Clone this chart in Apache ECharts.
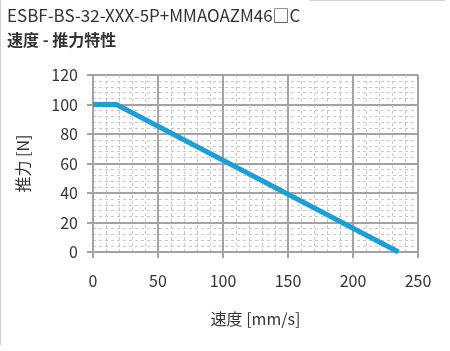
<!DOCTYPE html>
<html><head><meta charset="utf-8">
<script src="https://cdn.jsdelivr.net/npm/echarts@6/dist/echarts.min.js"></script>
<style>html,body{margin:0;padding:0;background:#fff}#c{width:450px;height:351px}</style>
</head><body><div id="c"></div>
<script>
const titleText = "ESBF-BS-32-XXX-5P+MMAOAZM46\u25A1C";
const subTitleText = "速度 - 推力特性";
const xAxisName = "速度 [mm/s]";
const yAxisName = "推力 [N]";
const speed = [0, 18, 235];
const thrust = [100, 100, 0];
const xTicks = [0, 50, 100, 150, 200, 250];
const yTicks = [0, 20, 40, 60, 80, 100, 120];

const font = '"Noto Sans CJK JP", "Noto Sans", sans-serif';
const chart = echarts.init(document.getElementById('c'), null, {renderer: 'canvas'});
const axisCommon = {
  axisLine: {show: true, lineStyle: {color: '#a3a3a3', width: 2}},
  axisTick: {show: true, length: 6, lineStyle: {color: '#a3a3a3', width: 2}},
  splitLine: {show: true, lineStyle: {color: '#a3a3a3', width: 2}},
  minorTick: {show: true, splitNumber: 5, length: 0},
  minorSplitLine: {show: true, lineStyle: {color: '#c8c8c8', width: 1, type: [3, 3]}},
  axisLabel: {color: '#333', fontSize: 16, fontFamily: font},
  nameTextStyle: {color: '#333', fontSize: 16, fontFamily: font}
};
chart.setOption({
  animation: false,
  textStyle: {fontFamily: font},
  title: [
    {text: titleText, left: 2, top: 2, textStyle: {fontSize: 17, fontWeight: 'normal', color: '#333', fontFamily: font}},
    {text: subTitleText, left: 2, top: 27, textStyle: {fontSize: 16, fontWeight: 'bold', color: '#333', fontFamily: font}}
  ],
  grid: {left: 93, right: 32, top: 75, bottom: 99},
  xAxis: Object.assign({}, axisCommon, {
    type: 'value', min: xTicks[0], max: xTicks[xTicks.length - 1], interval: 50,
    name: xAxisName, nameLocation: 'middle', nameGap: 59,
    axisLabel: Object.assign({}, axisCommon.axisLabel, {margin: 21})
  }),
  yAxis: Object.assign({}, axisCommon, {
    type: 'value', min: yTicks[0], max: yTicks[yTicks.length - 1], interval: 20,
    name: yAxisName, nameLocation: 'middle', nameGap: 62, nameRotate: 90,
    axisLabel: Object.assign({}, axisCommon.axisLabel, {margin: 15})
  }),
  graphic: [
    {type: 'line', shape: {x1: 0.5, y1: 0, x2: 0.5, y2: 345}, style: {stroke: '#d0d0d0', lineWidth: 1}},
    {type: 'line', shape: {x1: 310, y1: 0.5, x2: 445, y2: 0.5}, style: {stroke: '#d0d0d0', lineWidth: 1}}
  ],
  series: [{
    type: 'line',
    data: speed.map((s, i) => [s, thrust[i]]),
    showSymbol: false,
    lineStyle: {color: '#1a9fd9', width: 5},
    z: 5
  }]
});
</script></body></html>
